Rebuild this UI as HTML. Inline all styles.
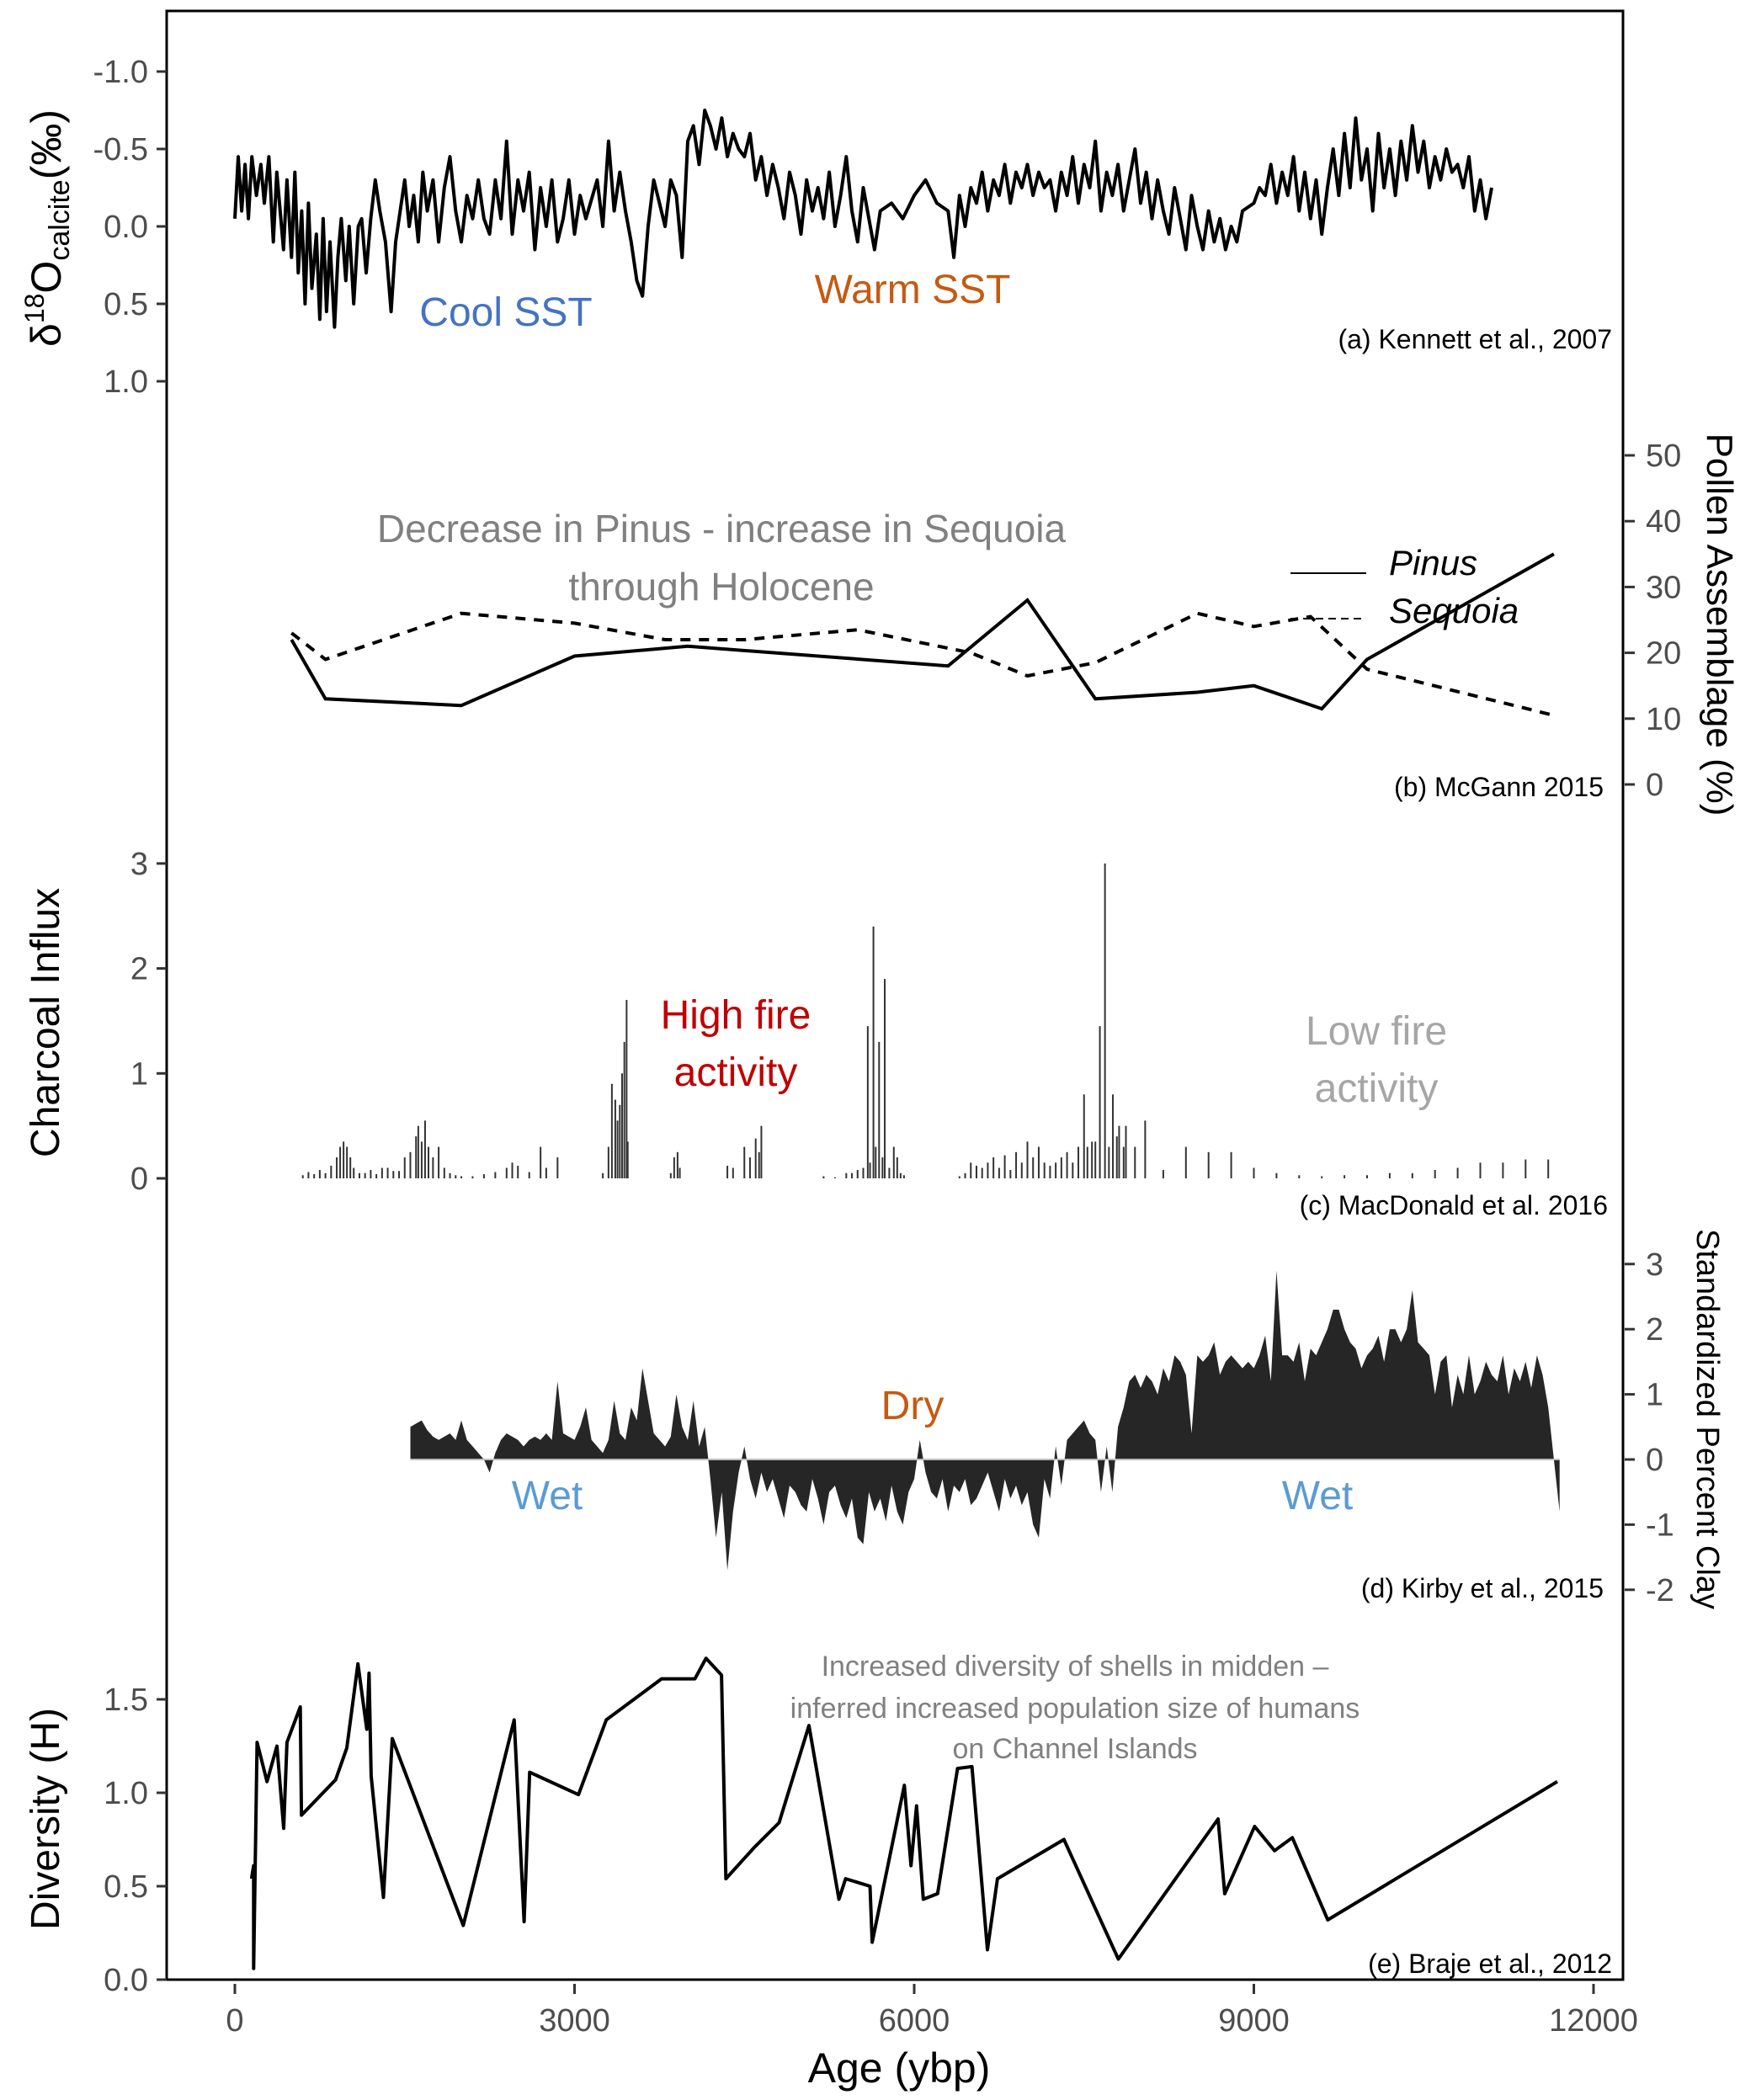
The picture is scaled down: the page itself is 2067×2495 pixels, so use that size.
<!DOCTYPE html>
<html><head><meta charset="utf-8"><style>
html,body{margin:0;padding:0;background:#fff;}
svg{display:block;font-family:"Liberation Sans",sans-serif;}
</style></head><body>
<svg id="chart" width="2067" height="2495" viewBox="0 0 2067 2495" xmlns="http://www.w3.org/2000/svg">
<rect x="198" y="13" width="1730" height="2339" fill="none" stroke="#000" stroke-width="3"/>
<g id="axes"></g>
<g id="marks"></g>
<g id="labels">
<text x="601" y="387" font-size="48" fill="#4472C4" text-anchor="middle">Cool SST</text>
<text x="1084" y="360" font-size="48" fill="#C55A11" text-anchor="middle">Warm SST</text>
<text x="1915" y="414" font-size="32" fill="#000" text-anchor="end">(a) Kennett et al., 2007</text>
<text x="857" y="644" font-size="46" fill="#808080" text-anchor="middle">Decrease in Pinus - increase in Sequoia</text>
<text x="857" y="713" font-size="46" fill="#808080" text-anchor="middle">through Holocene</text>
<line x1="1533" y1="681" x2="1623" y2="681" stroke="#000" stroke-width="2"/>
<text x="1650" y="683" font-size="42" font-style="italic" fill="#000">Pinus</text>
<line x1="1533" y1="735" x2="1623" y2="735" stroke="#000" stroke-width="2" stroke-dasharray="9,6"/>
<text x="1650" y="740" font-size="42" font-style="italic" fill="#000">Sequoia</text>
<text x="1905" y="946" font-size="32" fill="#000" text-anchor="end">(b) McGann 2015</text>
<text x="874" y="1222" font-size="48" fill="#C00000" text-anchor="middle">High fire</text>
<text x="874" y="1290" font-size="48" fill="#C00000" text-anchor="middle">activity</text>
<text x="1635" y="1241" font-size="48" fill="#A6A6A6" text-anchor="middle">Low fire</text>
<text x="1635" y="1309" font-size="48" fill="#A6A6A6" text-anchor="middle">activity</text>
<text x="1910" y="1443" font-size="32" fill="#000" text-anchor="end">(c) MacDonald et al. 2016</text>
<text x="1084" y="1686" font-size="48" fill="#C55A11" text-anchor="middle">Dry</text>
<text x="650" y="1793" font-size="48" fill="#5B9BD5" text-anchor="middle">Wet</text>
<text x="1565" y="1793" font-size="48" fill="#5B9BD5" text-anchor="middle">Wet</text>
<text x="1905" y="1898" font-size="32" fill="#000" text-anchor="end">(d) Kirby et al., 2015</text>
<text x="1277" y="1991" font-size="34" fill="#808080" text-anchor="middle">Increased diversity of shells in midden –</text>
<text x="1277" y="2041" font-size="34" fill="#808080" text-anchor="middle">inferred increased population size of humans</text>
<text x="1277" y="2089" font-size="34" fill="#808080" text-anchor="middle">on Channel Islands</text>
<text x="1915" y="2344" font-size="32" fill="#000" text-anchor="end">(e) Braje et al., 2012</text>
<text x="1068" y="2474" font-size="50" fill="#000" text-anchor="middle">Age (ybp)</text>
<text transform="translate(72,271) rotate(-90)" font-size="50" fill="#000" text-anchor="middle">δ<tspan font-size="32" dy="-20">18</tspan><tspan dy="20">O</tspan><tspan font-size="34" dy="10">calcite</tspan><tspan dy="-10">(‰)</tspan></text>
<text transform="translate(70,1215) rotate(-90)" font-size="48" fill="#000" text-anchor="middle">Charcoal Influx</text>
<text transform="translate(70,2161) rotate(-90)" font-size="48" fill="#000" text-anchor="middle">Diversity (H)</text>
<text transform="translate(2028,742) rotate(90)" font-size="44" fill="#000" text-anchor="middle">Pollen Assemblage (%)</text>
<text transform="translate(2016,1686) rotate(90)" font-size="38" fill="#000" text-anchor="middle">Standardized Percent Clay</text>
</g>
</svg>
<script>
// ---- data ----
const xTicks = [0, 3000, 6000, 9000, 12000];
const d18oTicks = [-1.0, -0.5, 0.0, 0.5, 1.0];
const pollenTicks = [0, 10, 20, 30, 40, 50];
const charcoalTicks = [0, 1, 2, 3];
const clayTicks = [-2, -1, 0, 1, 2, 3];
const divTicks = [0.0, 0.5, 1.0, 1.5];

const d18oAges = [0,30,60,90,120,150,190,230,260,300,340,370,400,430,460,500,530,560,590,620,650,680,720,750,780,810,840,880,910,940,980,1010,1050,1090,1120,1160,1200,1240,1280,1330,1380,1420,1460,1500,1540,1580,1620,1660,1700,1750,1800,1850,1900,1950,2000,2050,2100,2150,2200,2250,2300,2350,2400,2450,2500,2550,2600,2650,2700,2750,2800,2850,2900,2950,3000,3050,3100,3200,3250,3300,3350,3400,3450,3500,3550,3600,3650,3700,3750,3800,3850,3900,3950,4000,4050,4100,4150,4200,4250,4300,4350,4400,4450,4500,4550,4600,4650,4700,4750,4800,4850,4900,4950,5000,5050,5100,5150,5200,5250,5300,5350,5400,5450,5500,5550,5600,5650,5700,5800,5900,6000,6100,6200,6300,6350,6400,6450,6500,6550,6600,6650,6700,6750,6800,6850,6900,6950,7000,7050,7100,7150,7200,7250,7300,7350,7400,7450,7500,7550,7600,7650,7700,7750,7800,7850,7900,7950,8000,8050,8100,8150,8200,8250,8300,8350,8400,8450,8500,8550,8600,8650,8700,8750,8800,8850,8900,9000,9050,9100,9150,9200,9250,9300,9350,9400,9450,9500,9550,9600,9650,9700,9750,9800,9850,9900,9950,10000,10050,10100,10150,10200,10250,10300,10350,10400,10450,10500,10550,10600,10650,10700,10750,10800,10850,10900,10950,11000,11050,11100];
const d18oVals = [-0.05,-0.45,-0.1,-0.4,-0.05,-0.45,-0.2,-0.4,-0.15,-0.45,0.1,-0.35,-0.1,0.15,-0.3,0.2,-0.35,0.3,-0.1,0.5,-0.15,0.4,0.05,0.6,-0.05,0.55,0.1,0.65,0.2,-0.05,0.35,0.0,0.5,0.0,-0.05,0.3,-0.05,-0.3,-0.1,0.1,0.55,0.1,-0.1,-0.3,0.0,-0.2,0.1,-0.35,-0.1,-0.3,0.1,-0.25,-0.45,-0.1,0.1,-0.2,-0.05,-0.3,-0.05,0.05,-0.3,-0.05,-0.55,0.05,-0.3,-0.1,-0.35,0.15,-0.25,0.0,-0.3,0.1,-0.05,-0.3,0.05,-0.2,-0.05,-0.3,0.0,-0.55,-0.1,-0.35,-0.1,0.1,0.35,0.45,0.0,-0.3,-0.15,0.0,-0.3,-0.2,0.2,-0.55,-0.65,-0.4,-0.75,-0.65,-0.5,-0.7,-0.45,-0.6,-0.5,-0.45,-0.6,-0.3,-0.45,-0.2,-0.4,-0.25,-0.05,-0.35,-0.2,0.05,-0.3,-0.1,-0.25,-0.05,-0.35,0.0,-0.2,-0.45,-0.1,0.1,-0.25,-0.05,0.15,-0.1,-0.15,-0.05,-0.2,-0.3,-0.15,-0.1,0.2,-0.2,0.0,-0.25,-0.15,-0.35,-0.1,-0.3,-0.2,-0.4,-0.15,-0.35,-0.25,-0.4,-0.2,-0.35,-0.25,-0.3,-0.1,-0.35,-0.2,-0.45,-0.15,-0.4,-0.25,-0.55,-0.1,-0.35,-0.2,-0.4,-0.1,-0.3,-0.5,-0.15,-0.35,-0.05,-0.3,-0.1,0.05,-0.25,-0.05,0.15,-0.2,0.0,0.15,-0.1,0.1,-0.05,0.15,0.0,0.1,-0.1,-0.15,-0.25,-0.2,-0.4,-0.15,-0.35,-0.2,-0.45,-0.1,-0.35,-0.05,-0.3,0.05,-0.25,-0.5,-0.2,-0.6,-0.25,-0.7,-0.3,-0.5,-0.1,-0.6,-0.25,-0.5,-0.2,-0.55,-0.3,-0.65,-0.35,-0.55,-0.25,-0.45,-0.3,-0.5,-0.35,-0.4,-0.25,-0.45,-0.1,-0.3,-0.05,-0.25];

const pinusAges = [500,800,2000,3000,4000,6300,7000,7600,8500,9000,9600,10000,11650];
const pinusVals = [22,13,12,19.5,21,18,28,13,14,15,11.5,19,35];
const sequoiaAges = [500,800,2000,3000,3800,4500,5500,6500,7000,7600,8500,9000,9500,10000,11650];
const sequoiaVals = [23,19,26,24.5,22,22,23.5,20,16.5,18.5,26,24,25.5,17.5,10.5];

const charAges = [600,650,700,750,800,850,900,930,960,990,1020,1050,1100,1150,1200,1250,1300,1350,1400,1450,1500,1550,1600,1620,1650,1680,1710,1750,1800,1850,1900,1950,2000,2100,2200,2300,2400,2450,2500,2600,2700,2750,2850,3250,3300,3330,3360,3380,3400,3420,3440,3460,3470,3850,3880,3910,3930,4350,4400,4500,4550,4600,4630,4650,5200,5300,5400,5450,5500,5550,5590,5610,5640,5660,5690,5720,5740,5780,5820,5850,5880,5910,6400,6450,6500,6550,6600,6650,6700,6750,6800,6850,6900,6950,7000,7050,7100,7150,7200,7250,7300,7350,7400,7450,7500,7530,7570,7600,7640,7685,7720,7755,7790,7810,7850,7870,7950,8040,8200,8400,8600,8800,9000,9200,9400,9600,9800,10000,10200,10400,10600,10800,11000,11200,11400,11600];
const charVals = [0.03,0.06,0.04,0.08,0.05,0.12,0.2,0.3,0.35,0.3,0.2,0.1,0.05,0.05,0.08,0.04,0.1,0.1,0.07,0.07,0.2,0.25,0.4,0.5,0.35,0.55,0.3,0.2,0.3,0.1,0.05,0.03,0.02,0.02,0.04,0.06,0.1,0.15,0.12,0.06,0.3,0.1,0.2,0.05,0.3,0.9,0.75,0.55,0.7,1.0,1.3,1.7,0.35,0.05,0.2,0.25,0.1,0.12,0.1,0.3,0.2,0.38,0.25,0.5,0.02,0.01,0.05,0.05,0.08,0.1,1.45,0.15,2.4,0.3,1.3,0.2,1.9,0.1,0.3,0.2,0.05,0.03,0.02,0.05,0.15,0.12,0.1,0.15,0.2,0.1,0.22,0.08,0.25,0.15,0.35,0.2,0.3,0.15,0.12,0.15,0.2,0.25,0.15,0.3,0.8,0.3,0.35,0.35,1.45,3.0,0.3,0.8,0.4,0.5,0.3,0.5,0.3,0.55,0.08,0.3,0.25,0.25,0.1,0.05,0.03,0.02,0.03,0.03,0.05,0.05,0.08,0.1,0.15,0.15,0.18,0.18];

const clayAges = [1550,1600,1650,1700,1750,1800,1850,1900,1950,2000,2050,2100,2150,2200,2250,2300,2350,2400,2450,2500,2550,2600,2650,2700,2750,2800,2850,2900,2950,3000,3050,3100,3150,3200,3250,3300,3350,3400,3450,3500,3550,3600,3650,3700,3750,3800,3850,3900,3950,4000,4050,4100,4150,4200,4250,4300,4350,4400,4450,4500,4550,4600,4650,4700,4750,4800,4850,4900,4950,5000,5050,5100,5150,5200,5250,5300,5350,5400,5450,5500,5550,5600,5650,5700,5750,5800,5850,5900,5950,6000,6050,6100,6150,6200,6250,6300,6350,6400,6450,6500,6550,6600,6650,6700,6750,6800,6850,6900,6950,7000,7050,7100,7150,7200,7250,7300,7350,7400,7450,7500,7550,7600,7650,7700,7750,7800,7850,7900,7950,8000,8050,8100,8150,8200,8250,8300,8350,8400,8450,8500,8550,8600,8650,8700,8750,8800,8850,8900,8950,9000,9050,9100,9150,9200,9250,9300,9350,9400,9450,9500,9550,9600,9650,9700,9750,9800,9850,9900,9950,10000,10050,10100,10150,10200,10250,10300,10350,10400,10450,10500,10550,10600,10650,10700,10750,10800,10850,10900,10950,11000,11050,11100,11150,11200,11250,11300,11350,11400,11450,11500,11550,11600,11650,11700];
const clayVals = [0.5,0.55,0.6,0.45,0.35,0.3,0.35,0.4,0.3,0.6,0.3,0.2,0.1,0.0,-0.2,
0.1,0.3,0.4,0.35,0.3,0.2,0.3,0.35,0.3,0.4,0.3,
1.2,0.4,0.35,0.3,0.5,0.8,0.3,0.2,0.1,0.3,
0.9,0.4,0.3,0.8,0.6,1.4,0.9,0.4,0.3,0.2,0.35,1.0,0.5,0.3,0.9,0.2,0.5,
-0.3,-1.2,-0.5,-1.7,-0.8,-0.2,0.2,-0.3,-0.6,-0.2,-0.5,
-0.3,-0.6,-0.9,-0.4,-0.5,-0.7,-0.8,-0.3,-0.6,-1.0,-0.5,
-0.4,-0.7,-0.9,-0.6,-1.2,-1.3,-0.5,-0.8,-0.6,-0.95,-0.4,
-0.8,-1.0,-0.5,-0.3,0.3,-0.2,-0.5,-0.6,-0.3,-0.8,-0.4,
-0.5,-0.3,-0.7,-0.6,-0.4,-0.2,-0.5,-0.8,-0.3,-0.6,-0.4,
-0.7,-0.5,-1.0,-1.2,-0.3,-0.6,0.2,-0.4,0.3,0.4,0.5,
0.6,0.4,0.3,-0.5,0.2,-0.5,0.5,0.8,
1.2,1.3,1.1,1.3,1.2,1.0,1.4,1.2,1.6,1.5,1.3,
0.4,1.6,1.5,1.6,1.8,1.3,1.5,1.6,1.5,1.4,1.5,
1.4,1.6,1.9,1.2,2.9,1.6,1.6,1.5,1.8,1.2,1.7,
1.6,1.8,2.0,2.3,2.3,2.0,1.8,1.7,1.4,1.6,1.7,
1.9,1.5,2.0,2.0,1.8,2.0,2.6,1.8,1.7,1.6,1.0,
1.5,1.6,0.8,1.3,1.0,1.6,1.0,1.2,1.5,1.3,1.2,
1.6,1.0,1.4,1.2,1.5,1.1,1.6,1.3,0.8,0.0,-0.8];

const divAges = [147,166,166,196,284,372,431,460,578,588,890,989,1087,1165,1185,1204,1312,1390,2017,2467,2555,2604,3035,3280,3769,4063,4161,4298,4337,4591,4807,5071,5335,5394,5610,5629,5913,5972,6021,6080,6207,6383,6510,6647,6735,7323,7803,8684,8743,9007,9183,9340,9653,11680];
const divVals = [0.54,0.61,0.06,1.27,1.06,1.25,0.81,1.27,1.46,0.88,1.07,1.24,1.69,1.34,1.64,1.09,0.44,1.29,0.29,1.39,0.31,1.11,0.99,1.39,1.61,1.61,1.72,1.63,0.54,0.71,0.84,1.36,0.43,0.54,0.5,0.2,1.04,0.61,0.93,0.43,0.46,1.13,1.14,0.16,0.54,0.75,0.11,0.86,0.46,0.82,0.69,0.76,0.32,1.06];

// ---- scales ----
const xS = a => 279 + a * (1893 - 279) / 12000;
const yA = v => 269 + v * 184;
const yB = p => 932 - p * 7.82;
const yC = c => 1400 - c * 124.7;
const yD = v => 1734 - v * 77.4;
const yE = h => 2352 - h * 222;

const NS = "http://www.w3.org/2000/svg";
const axes = document.getElementById('axes');
const marks = document.getElementById('marks');
function mk(tag, attrs, parent) {
  const e = document.createElementNS(NS, tag);
  for (const k in attrs) e.setAttribute(k, attrs[k]);
  parent.appendChild(e);
  return e;
}
function fmt(v, d) { return d ? v.toFixed(1) : String(v); }

xTicks.forEach(t => {
  const tk = mk('line', {x1: xS(t), x2: xS(t), y1: 2357, y2: 2369, stroke: '#333', 'stroke-width': 3}, axes);
  
  
  const tx = mk('text', {x: xS(t), y: 2413, 'font-size': 38, fill: '#4d4d4d', 'text-anchor': 'middle'}, axes);
  tx.textContent = t;
  
  
});
function leftAxis(ticks, ys, dec, name) {
  ticks.forEach(t => {
    const tk = mk('line', {x1: 186, x2: 198, y1: ys(t), y2: ys(t), stroke: '#333', 'stroke-width': 3}, axes);
    
    
    const tx = mk('text', {x: 176, y: ys(t) + 13, 'font-size': 38, fill: '#4d4d4d', 'text-anchor': 'end'}, axes);
    tx.textContent = fmt(t, dec);
    
    
  });
}
function rightAxis(ticks, ys, name) {
  ticks.forEach(t => {
    const tk = mk('line', {x1: 1930, x2: 1942, y1: ys(t), y2: ys(t), stroke: '#333', 'stroke-width': 3}, axes);
    
    
    const tx = mk('text', {x: 1955, y: ys(t) + 13, 'font-size': 38, fill: '#4d4d4d'}, axes);
    tx.textContent = t;
    
    
  });
}
leftAxis(d18oTicks, yA, true, 'd18o');
rightAxis(pollenTicks, yB, 'pollen');
leftAxis(charcoalTicks, yC, false, 'charcoal');
rightAxis(clayTicks, yD, 'clay');
leftAxis(divTicks, yE, true, 'diversity');

function poly(ages, vals, ys) { return ages.map((a, i) => xS(a).toFixed(1) + ',' + ys(vals[i]).toFixed(1)).join(' '); }

const la = mk('polyline', {points: poly(d18oAges, d18oVals, yA), fill: 'none', stroke: '#000', 'stroke-width': 4, 'stroke-linejoin': 'round'}, marks);



const lp = mk('polyline', {points: poly(pinusAges, pinusVals, yB), fill: 'none', stroke: '#000', 'stroke-width': 4}, marks);


const ls = mk('polyline', {points: poly(sequoiaAges, sequoiaVals, yB), fill: 'none', stroke: '#000', 'stroke-width': 4, 'stroke-dasharray': '12,10'}, marks);



charAges.forEach((a, i) => {
  const b = mk('line', {x1: xS(a), x2: xS(a), y1: yC(0), y2: yC(charVals[i]), stroke: '#333', 'stroke-width': 2}, marks);
  
  
});

const areaPts = xS(clayAges[0]).toFixed(1) + ',' + yD(0) + ' ' + poly(clayAges, clayVals, yD) + ' ' + xS(clayAges[clayAges.length - 1]).toFixed(1) + ',' + yD(0);
const ar = mk('polygon', {points: areaPts, fill: '#262626', stroke: 'none'}, marks);


const zl = mk('line', {x1: xS(clayAges[0]), x2: xS(clayAges[clayAges.length - 1]), y1: yD(0), y2: yD(0), stroke: '#bbb', 'stroke-width': 2}, marks);



const ld = mk('polyline', {points: poly(divAges, divVals, yE), fill: 'none', stroke: '#000', 'stroke-width': 4, 'stroke-linejoin': 'round'}, marks);


</script>
</body></html>
